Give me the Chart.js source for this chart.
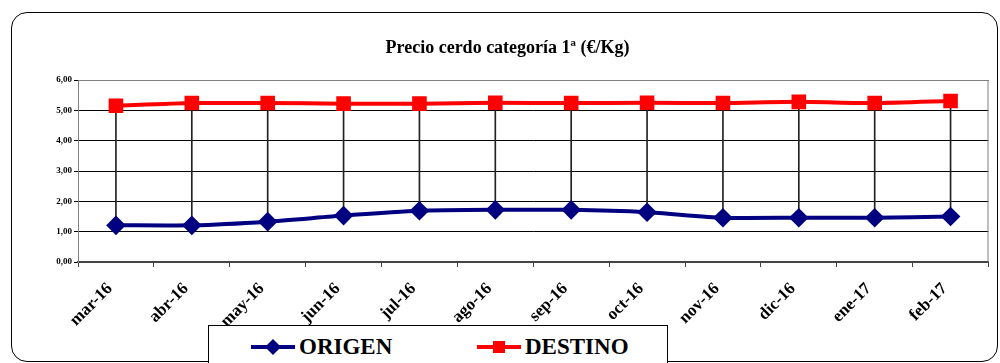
<!DOCTYPE html>
<html>
<head>
<meta charset="utf-8">
<script src="https://cdn.jsdelivr.net/npm/chart.js@4"></script>
<style>
  html, body { margin: 0; padding: 0; background: #fff; }
  #wrap { position: relative; width: 1000px; height: 363px; overflow: hidden; }
  #frame { position: absolute; left: 11px; top: 12px; width: 987px; height: 350px;
           border: 1.5px solid #000; border-radius: 16px; box-sizing: border-box; }
  #c { position: absolute; left: 0; top: 0; }
  #legend { position: absolute; left: 208px; top: 325px; width: 460px; height: 50px;
            border: 1px solid #000; background: #fff; box-sizing: border-box;
            font: bold 23px "Liberation Serif", "Times New Roman", serif; color: #000; }
  #legend .item { position: absolute; top: 8px; display: flex; align-items: center; }
  #legend svg { margin-right: 4px; }
</style>
</head>
<body>
<div id="wrap">
  <div id="frame"></div>
  <canvas id="c" width="1000" height="363"></canvas>
  <div id="legend"></div>
</div>
<script>
const months = ['mar-16','abr-16','may-16','jun-16','jul-16','ago-16','sep-16','oct-16','nov-16','dic-16','ene-17','feb-17'];
const origen  = [1.21, 1.21, 1.33, 1.53, 1.69, 1.72, 1.72, 1.64, 1.46, 1.46, 1.46, 1.50];
const destino = [5.15, 5.24, 5.24, 5.22, 5.22, 5.25, 5.24, 5.25, 5.24, 5.28, 5.24, 5.31];
const yTicks  = [0, 1, 2, 3, 4, 5, 6];

const SERIF = '"Liberation Serif", "Times New Roman", serif';
const NAVY = '#000080', RED = '#ff0000';

// high-low lines joining both series, as thin floating bars
const hiLo = origen.map((o, i) => [o, destino[i]]);

// plot-area border (top / right)
const areaBorder = {
  id: 'areaBorder',
  beforeDatasetsDraw(chart) {
    const a = chart.chartArea, ctx = chart.ctx;
    ctx.save();
    ctx.strokeStyle = '#808080';
    ctx.lineWidth = 1;
    ctx.beginPath();
    ctx.moveTo(a.left, a.top + 0.5);
    ctx.lineTo(a.right - 0.5, a.top + 0.5);
    ctx.lineTo(a.right - 0.5, a.bottom);
    ctx.stroke();
    ctx.restore();
  }
};

new Chart(document.getElementById('c'), {
  data: {
    labels: months,
    datasets: [
      { type: 'line', label: 'ORIGEN', data: origen, borderColor: NAVY, backgroundColor: NAVY,
        borderWidth: 4, pointStyle: 'rectRot', pointRadius: 7, tension: 0.2, order: 1 },
      { type: 'line', label: 'DESTINO', data: destino, borderColor: RED, backgroundColor: RED,
        borderWidth: 4, pointStyle: 'rect', pointRadius: 7.5, tension: 0.2, order: 0 },
      { type: 'bar', label: 'hilo', data: hiLo, backgroundColor: '#222', barThickness: 1, order: 2 }
    ]
  },
  options: {
    responsive: false,
    animation: false,
    layout: { padding: { left: 20, right: 5, top: 0, bottom: 0 } },
    plugins: {
      legend: { display: false },
      tooltip: { enabled: false },
      title: { display: true, text: 'Precio cerdo categoría 1ª (€/Kg)', color: '#000',
               font: { family: SERIF, size: 18, weight: 'bold' }, padding: { top: 38, bottom: 20.4 } }
    },
    scales: {
      x: {
        offset: true,
        grid: { offset: true, drawOnChartArea: false, drawTicks: true, tickLength: 5, color: '#444' },
        border: { color: '#444', width: 2 },
        ticks: { color: '#000', font: { family: SERIF, size: 17, weight: 'bold' },
                 minRotation: 45, maxRotation: 45, autoSkip: false, padding: 12, labelOffset: -6 },
        afterFit(s) { s.height = 101; }
      },
      y: {
        min: 0, max: 6,
        afterBuildTicks(s) { s.ticks = yTicks.map(v => ({ value: v })); },
        grid: { color: '#000', lineWidth: 1, tickLength: 4 },
        border: { color: '#808080', width: 1 },
        ticks: { color: '#000', font: { family: SERIF, size: 9, weight: 'bold' }, padding: 2,
                 callback: v => Number(v).toFixed(2).replace('.', ',') },
        afterFit(s) { s.width = 58; }
      }
    }
  },
  plugins: [areaBorder]
});

// legend (line + marker samples)
function legendItem(label, color, marker, left) {
  const shape = marker === 'diamond'
    ? `<polygon points="22,2 30,10 22,18 14,10" fill="${color}"/>`
    : `<rect x="16" y="4" width="12" height="12" fill="${color}"/>`;
  return `<div class="item" style="left:${left}px">
    <svg width="44" height="20"><line x1="0" y1="10" x2="44" y2="10" stroke="${color}" stroke-width="4"/>${shape}</svg>
    <span>${label}</span></div>`;
}
document.getElementById('legend').innerHTML =
  legendItem('ORIGEN', NAVY, 'diamond', 42) + legendItem('DESTINO', RED, 'square', 268);
</script>
</body>
</html>
